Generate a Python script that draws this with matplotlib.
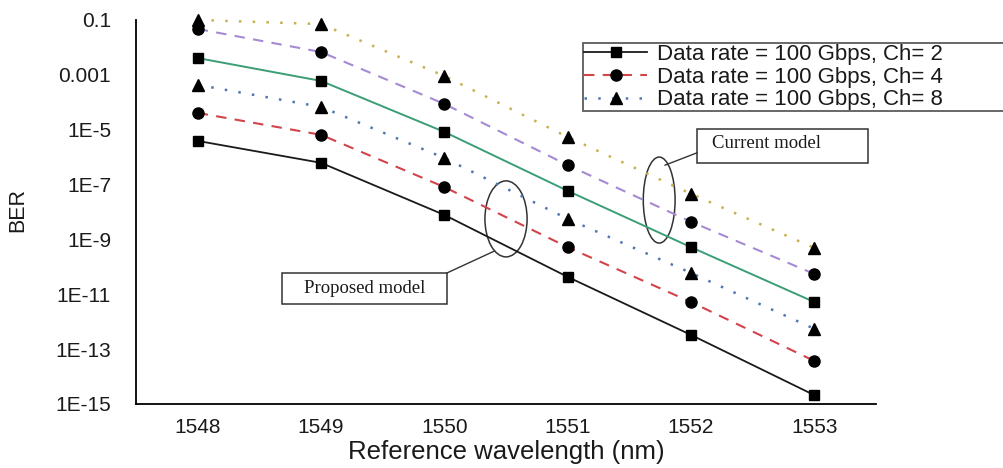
"""BER vs reference wavelength, proposed vs current model at 100 Gbps."""

import matplotlib
matplotlib.use("Agg")
import matplotlib.pyplot as plt
from matplotlib.patches import Ellipse, Rectangle
from matplotlib.lines import Line2D

wavelength_nm = [1548, 1549, 1550, 1551, 1552, 1553]

# proposed model (lower group)
ber_prop_ch2 = [3.9e-6, 6.2e-7, 7.8e-9, 4.3e-11, 3.3e-13, 2.1e-15]
ber_prop_ch4 = [4.1e-5, 6.5e-6, 8.1e-8, 5.2e-10, 5.2e-12, 3.7e-14]
ber_prop_ch8 = [4.3e-4, 6.8e-5, 9.3e-7, 5.6e-9, 6.0e-11, 5.5e-13]

# current model (upper group)
ber_curr_ch2 = [4.1e-3, 6.0e-4, 8.3e-6, 5.9e-8, 5.2e-10, 5.2e-12]
ber_curr_ch4 = [4.7e-2, 6.8e-3, 8.7e-5, 5.1e-7, 4.4e-9, 5.5e-11]
ber_curr_ch8 = [1.0e-1, 7.1e-2, 9.1e-4, 5.4e-6, 4.6e-8, 4.9e-10]

ber_ticks       = [1e-1, 1e-3, 1e-5, 1e-7, 1e-9, 1e-11, 1e-13, 1e-15]
ber_tick_labels = ["0.1", "0.001", "1E-5", "1E-7", "1E-9", "1E-11", "1E-13", "1E-15"]
legend_labels   = ["Data rate = 100 Gbps, Ch= 2",
                   "Data rate = 100 Gbps, Ch= 4",
                   "Data rate = 100 Gbps, Ch= 8"]

SANS  = ["Liberation Sans", "DejaVu Sans"]
SERIF = ["Liberation Serif", "DejaVu Serif"]
INK   = "#1a1a1a"


def draw_series(ax):
    dashed = (5, 4)
    dotted = (1, 4.5)
    series = [
        (ber_prop_ch2, "#1a1a1a", None,   1.3, "s", 7, legend_labels[0]),
        (ber_prop_ch4, "#d2444a", dashed, 1.5, "o", 8, legend_labels[1]),
        (ber_prop_ch8, "#4f78b0", dotted, 1.8, "^", 9, legend_labels[2]),
        (ber_curr_ch2, "#3b9e74", None,   1.4, "s", 7, "_nolegend_"),
        (ber_curr_ch4, "#a58ad4", dashed, 1.5, "o", 8, "_nolegend_"),
        (ber_curr_ch8, "#c7b04e", dotted, 1.8, "^", 9, "_nolegend_"),
    ]
    for ber, color, dashes, lw, marker, ms, label in series:
        line, = ax.plot(wavelength_nm, ber, color=color, lw=lw, marker=marker,
                        ms=ms, mfc="black", mec="black", label=label,
                        clip_on=False, zorder=3)
        if dashes:
            line.set_dashes(dashes)


def callout(ax, text, box, text_xy, ell, leader):
    """box + ellipse + leader line, all in axes fraction."""
    kw = dict(transform=ax.transAxes, clip_on=False)
    ax.add_patch(Rectangle(box[:2], box[2], box[3], fill=False,
                           ec="#333333", lw=1.1, **kw))
    ax.text(*text_xy, text, ha="center", va="center", fontsize=13.5,
            family=SERIF, color=INK, **kw)
    ax.add_patch(Ellipse(ell[:2], ell[2], ell[3], fill=False,
                         ec="#333333", lw=1.1, **kw))
    ax.add_line(Line2D(leader[0], leader[1], color="#333333", lw=1.0, **kw))


if __name__ == "__main__":
    fig = plt.figure(figsize=(10.04, 4.68), dpi=100)
    ax = fig.add_axes([0.1355, 0.1368, 0.7370, 0.8205])

    draw_series(ax)

    ax.set_yscale("log")
    ax.set_xlim(1547.5, 1553.5)
    ax.set_ylim(1e-15, 1e-1)
    ax.set_yticks(ber_ticks, ber_tick_labels)
    ax.yaxis.set_minor_locator(plt.NullLocator())
    ax.set_xticks(wavelength_nm, [str(w) for w in wavelength_nm])

    for side in ["top", "right"]:
        ax.spines[side].set_visible(False)
    for side in ["left", "bottom"]:
        ax.spines[side].set_linewidth(1.3)
        ax.spines[side].set_color("black")

    ax.tick_params(axis="both", length=0, colors=INK)
    ax.tick_params(axis="y", pad=18, labelsize=15)
    ax.tick_params(axis="x", pad=10, labelsize=15)
    for lab in ax.get_xticklabels() + ax.get_yticklabels():
        lab.set_family(SANS)

    ax.set_xlabel("Reference wavelength (nm)", fontsize=18.5, family=SANS,
                  color=INK)
    ax.xaxis.set_label_coords(0.5, -0.094)
    ax.set_ylabel("BER", fontsize=15.5, family=SANS, color=INK)
    ax.yaxis.set_label_coords(-0.145, 0.505)

    callout(ax, "Proposed model",
            box=(0.197, 0.260, 0.223, 0.081), text_xy=(0.309, 0.300),
            ell=(0.500, 0.482, 0.057, 0.198),
            leader=([0.420, 0.484], [0.341, 0.398]))
    callout(ax, "Current model",
            box=(0.758, 0.628, 0.231, 0.088), text_xy=(0.852, 0.678),
            ell=(0.707, 0.531, 0.043, 0.224),
            leader=([0.715, 0.758], [0.622, 0.654]))

    leg = ax.legend(loc="upper left", mode="expand",
                    bbox_to_anchor=(0.5807, 0.7585, 0.47, 0.1495),
                    bbox_transform=fig.transFigure,
                    prop={"family": SANS, "size": 16},
                    frameon=True, fancybox=False, borderpad=0.05,
                    labelspacing=0.07, handlelength=2.85, handletextpad=0.45,
                    borderaxespad=0)
    leg.get_frame().set_edgecolor("#333333")
    leg.get_frame().set_linewidth(1.3)
    for t in leg.get_texts():
        t.set_color(INK)

    fig.savefig("out.png", dpi=100)
    plt.close()
